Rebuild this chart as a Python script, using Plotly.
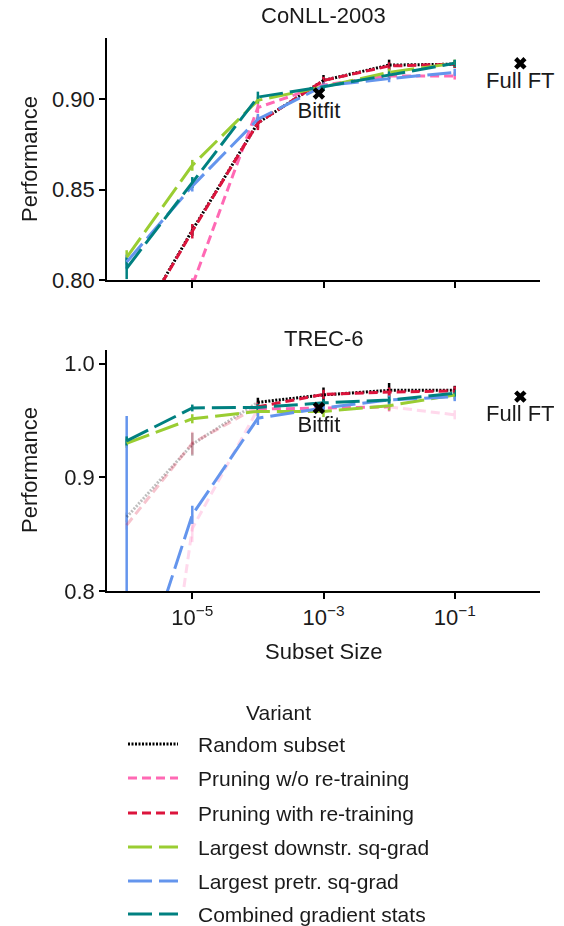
import plotly.graph_objects as go

# ---------------- data ----------------
subset_sizes = [1e-6, 1e-5, 1e-4, 1e-3, 1e-2, 1e-1]
variants = ["Random subset", "Pruning w/o re-training", "Pruning with re-training",
            "Largest downstr. sq-grad", "Largest pretr. sq-grad", "Combined gradient stats"]

# CoNLL-2003
conll_random = [0.765, 0.8275, 0.887, 0.9105, 0.919, 0.9195]
conll_prune_wo = [0.60, 0.797, 0.8955, 0.908, 0.913, 0.913]
conll_prune_with = [0.765, 0.827, 0.887, 0.9105, 0.9185, 0.9195]
conll_downstr = [0.8125, 0.8635, 0.8995, 0.907, 0.915, 0.920]
conll_pretr = [0.810, 0.852, 0.889, 0.9075, 0.9115, 0.915]
conll_combined = [0.8065, 0.854, 0.9013, 0.907, 0.9135, 0.920]

conll_random_err = [0.003, 0.003, 0.003, 0.003, 0.003, 0.002]
conll_prune_wo_err = [0.004, 0.004, 0.003, 0.002, 0.002, 0.002]
conll_prune_with_err = [0.004, 0.004, 0.004, 0.002, 0.002, 0.002]
conll_downstr_err = [0.004, 0.003, 0.002, 0.002, 0.002, 0.002]
conll_pretr_err = [0.004, 0.003, 0.003, 0.002, 0.002, 0.002]
conll_combined_err = [0.006, 0.003, 0.003, 0.002, 0.002, 0.002]

# TREC-6
trec_random = [0.865, 0.929, 0.966, 0.9725, 0.9765, 0.9765]
trec_prune_wo = [0.45, 0.855, 0.960, 0.961, 0.962, 0.955]
trec_prune_with = [0.858, 0.930, 0.962, 0.973, 0.975, 0.976]
trec_downstr = [0.930, 0.9515, 0.958, 0.958, 0.963, 0.9725]
trec_pretr = [0.69, 0.867, 0.952, 0.961, 0.968, 0.971]
trec_combined = [0.932, 0.961, 0.9615, 0.9655, 0.968, 0.974]

trec_random_err = [0.004, 0.010, 0.004, 0.0065, 0.0065, 0.004]
trec_prune_wo_err = [0.01, 0.012, 0.004, 0.004, 0.004, 0.004]
trec_prune_with_err = [0.004, 0.010, 0.004, 0.004, 0.004, 0.004]
trec_downstr_err = [0.004, 0.004, 0.004, 0.005, 0.004, 0.004]
trec_pretr_err = [0.264, 0.008, 0.006, 0.004, 0.004, 0.004]
trec_combined_err = [0.004, 0.003, 0.003, 0.003, 0.003, 0.003]

# per-point opacity (faint points in the original)
conll_alpha = [[1] * 6] * 6
trec_alpha = [
    [0.25, 0.25, 1, 1, 1, 1],
    [0.25, 0.25, 1, 1, 1, 0.25],
    [0.25, 0.25, 1, 1, 1, 1],
    [1] * 6, [1] * 6, [1] * 6,
]

bitfit_x = [0.00085]
bitfit_conll = [0.9033]
bitfit_trec = [0.961]
fullft_x = [1.0]
fullft_conll = [0.920]
fullft_trec = [0.971]

# ---------------- style ----------------
colors = ["#000000", "#ff69b4", "#dc143c", "#9acd32", "#6495ed", "#008080"]
dashes = ["2px,1.5px", "9px,5px", "9px,5px", "24px,7px", "24px,7px", "24px,7px"]
FONT = "Liberation Sans"
FS = 22
TXT = "#1a1a1a"
W, H = 564, 926

fig = go.Figure()

conll_series = [conll_random, conll_prune_wo, conll_prune_with, conll_downstr, conll_pretr, conll_combined]
conll_errs = [conll_random_err, conll_prune_wo_err, conll_prune_with_err, conll_downstr_err, conll_pretr_err, conll_combined_err]
trec_series = [trec_random, trec_prune_wo, trec_prune_with, trec_downstr, trec_pretr, trec_combined]
trec_errs = [trec_random_err, trec_prune_wo_err, trec_prune_with_err, trec_downstr_err, trec_pretr_err, trec_combined_err]


def runs(alpha):
    """group consecutive segments with equal opacity"""
    seg = [min(alpha[i], alpha[i + 1]) for i in range(len(alpha) - 1)]
    out = []
    s = 0
    for i in range(1, len(seg) + 1):
        if i == len(seg) or seg[i] != seg[s]:
            out.append((s, i, seg[s]))
            s = i
    return out


def add_panel(series, errs, alphas, xa, ya):
    for k, (ys, es, al) in enumerate(zip(series, errs, alphas)):
        for a in sorted(set(al)):
            idx = [i for i in range(len(ys)) if al[i] == a]
            fig.add_trace(go.Scatter(
                x=[subset_sizes[i] for i in idx], y=[ys[i] for i in idx],
                mode="markers", marker=dict(size=1, color=colors[k], opacity=0),
                error_y=dict(type="data", array=[es[i] for i in idx], width=0,
                             thickness=2.5, color=colors[k]),
                opacity=a, showlegend=False, hoverinfo="skip",
                xaxis=xa, yaxis=ya))
    for k, (ys, al) in enumerate(zip(series, alphas)):
        for (s, e, a) in runs(al):
            fig.add_trace(go.Scatter(
                x=subset_sizes[s:e + 1], y=ys[s:e + 1], mode="lines",
                line=dict(color=colors[k], width=3, dash=dashes[k]),
                opacity=a, name=variants[k], legendgroup=variants[k],
                showlegend=False, xaxis=xa, yaxis=ya))


add_panel(conll_series, conll_errs, conll_alpha, "x", "y")
add_panel(trec_series, trec_errs, trec_alpha, "x2", "y2")

for xa, ya, by, fy in [("x", "y", bitfit_conll, fullft_conll),
                       ("x2", "y2", bitfit_trec, fullft_trec)]:
    fig.add_trace(go.Scatter(x=bitfit_x, y=by, mode="markers+text", text=["Bitfit"],
                             textposition="bottom center",
                             textfont=dict(size=FS, color=TXT, family=FONT),
                             marker=dict(symbol="x", size=11, color="black"),
                             showlegend=False, xaxis=xa, yaxis=ya, cliponaxis=False))
    fig.add_trace(go.Scatter(x=fullft_x, y=fy, mode="markers+text", text=["Full FT"],
                             textposition="bottom center",
                             textfont=dict(size=FS, color=TXT, family=FONT),
                             marker=dict(symbol="x", size=11, color="black"),
                             showlegend=False, xaxis=xa, yaxis=ya, cliponaxis=False))

xdom = [107 / W, 540 / W]
axis_common = dict(showline=True, linecolor="black", linewidth=1.5, ticks="outside",
                   ticklen=6, tickwidth=1.5, tickcolor="black", showgrid=False,
                   zeroline=False, automargin=False,
                   tickfont=dict(size=FS, family=FONT, color=TXT))


def ann(text, x, y, angle=0, size=FS, xanchor="center"):
    return dict(text=text, x=x / W, y=1 - y / H, xref="paper", yref="paper",
                xanchor=xanchor, yanchor="middle", textangle=angle,
                showarrow=False, font=dict(size=size, family=FONT, color=TXT))


annotations = [
    ann("CoNLL-2003", 323, 15),
    ann("TREC-6", 323, 338),
    ann("Performance", 29, 159, -90),
    ann("Performance", 29, 470, -90),
    ann("Subset Size", 323, 651),
    ann("Variant", 278, 712, size=21),
]

# legend drawn by hand (the original legend runs off the bottom of the figure)
legend_rows = [744, 778, 813, 847, 881, 914]
shapes = []
for k, row in enumerate(legend_rows):
    shapes.append(dict(type="line", xref="paper", yref="paper",
                       x0=128 / W, x1=178 / W, y0=1 - row / H, y1=1 - row / H,
                       line=dict(color=colors[k], width=3, dash=dashes[k])))
    annotations.append(ann(variants[k], 196, row, size=21, xanchor="left"))

fig.update_layout(
    template="none",
    width=W, height=H, autosize=False,
    margin=dict(l=0, r=0, t=0, b=0, pad=0),
    plot_bgcolor="white", paper_bgcolor="white",
    font=dict(family=FONT, size=FS, color=TXT),
    showlegend=False,
    xaxis=dict(type="log", range=[-6.3, 0.3], domain=xdom, anchor="y",
               tickvals=[1e-5, 1e-3, 1e-1], showticklabels=False, **axis_common),
    yaxis=dict(range=[0.80, 0.934], domain=[1 - 280 / H, 1 - 38 / H], anchor="x",
               tickvals=[0.80, 0.85, 0.90], ticktext=["0.80", "0.85", "0.90"], **axis_common),
    xaxis2=dict(type="log", range=[-6.3, 0.3], domain=xdom, anchor="y2",
                tickvals=[1e-5, 1e-3, 1e-1],
                ticktext=["10<sup>−5</sup>", "10<sup>−3</sup>", "10<sup>−1</sup>"], **axis_common),
    yaxis2=dict(range=[0.8, 1.012], domain=[1 - 591 / H, 1 - 350 / H], anchor="x2",
                tickvals=[0.8, 0.9, 1.0], ticktext=["0.8", "0.9", "1.0"], **axis_common),
    annotations=annotations,
    shapes=shapes,
)

fig.write_html("out.html", config={"displayModeBar": False},
               post_script="document.body.style.margin='0px';document.documentElement.style.overflow='hidden';")
